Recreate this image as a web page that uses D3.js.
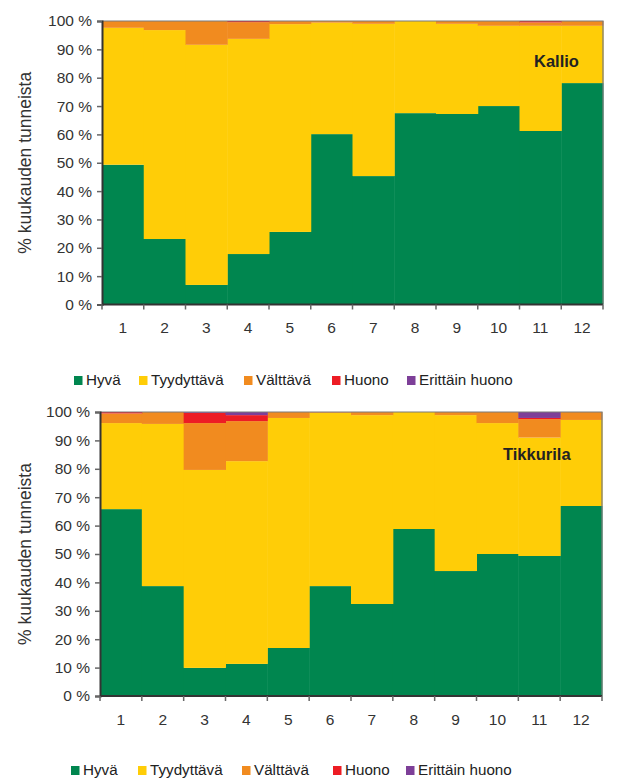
<!DOCTYPE html>
<html>
<head>
<meta charset="utf-8">
<script src="https://cdn.jsdelivr.net/npm/d3@7"></script>
<style>
  html, body { margin: 0; padding: 0; background: #fff; }
  svg { display: block; font-family: "Liberation Sans", Arial, sans-serif; }
</style>
</head>
<body>
<svg id="chart" width="618" height="779"></svg>
<script>
// Month numbers along the x axis
const months = ["1", "2", "3", "4", "5", "6", "7", "8", "9", "10", "11", "12"];
// Air quality classes, bottom to top of each stack
const classes = ["Hyvä", "Tyydyttävä", "Välttävä", "Huono", "Erittäin huono"];
const yTicks = [0, 10, 20, 30, 40, 50, 60, 70, 80, 90, 100];

// Kallio: share of hours per month (%)
const kallioHyva        = [49.3, 23.1, 6.9, 17.8, 25.6, 60.1, 45.3, 67.5, 67.2, 70.0, 61.2, 78.1];
const kallioTyydyttava  = [48.3, 73.7, 84.7, 75.9, 73.3, 39.3, 53.7, 32.5, 31.8, 28.3, 37.1, 20.2];
const kallioValttava    = [2.4, 3.2, 8.4, 5.9, 1.1, 0.6, 1.0, 0.0, 1.0, 1.7, 1.2, 1.7];
const kallioHuono       = [0, 0, 0, 0.4, 0, 0, 0, 0, 0, 0, 0.5, 0];
const kallioErittain    = [0, 0, 0, 0, 0, 0, 0, 0, 0, 0, 0, 0];

// Tikkurila: share of hours per month (%)
const tikkurilaHyva       = [65.8, 38.7, 9.9, 11.3, 16.9, 38.7, 32.4, 58.8, 44.0, 50.0, 49.3, 66.9];
const tikkurilaTyydyttava = [30.3, 57.1, 69.7, 71.4, 81.0, 61.0, 66.5, 41.2, 54.9, 46.1, 41.7, 30.3];
const tikkurilaValttava   = [3.4, 4.2, 16.5, 14.1, 2.1, 0.3, 1.1, 0.0, 1.1, 3.9, 6.5, 2.8];
const tikkurilaHuono      = [0.5, 0, 3.6, 2.1, 0, 0, 0, 0, 0, 0, 0.4, 0];
const tikkurilaErittain   = [0, 0, 0.3, 1.1, 0, 0, 0, 0, 0, 0, 2.1, 0];

const classColors = ["#00864F", "#FFCD07", "#F18B1F", "#ED1C24", "#7D3F98"];

const svg = d3.select("#chart");

function toRows(series) {
  return months.map((m, i) => {
    const row = { month: m };
    classes.forEach((c, k) => { row[c] = series[k][i]; });
    return row;
  });
}

function drawPanel(series, station, box) {
  const g = svg.append("g");
  const x = d3.scaleBand().domain(months).range([box.left, box.right]).padding(0);
  const y = d3.scaleLinear().domain([0, 100]).range([box.bottom, box.top]);
  const stack = d3.stack().keys(classes)(toRows(series));
  const color = d3.scaleOrdinal().domain(classes).range(classColors);

  // stacked bars, no gap between months
  g.selectAll("g.layer").data(stack).join("g")
    .attr("class", "layer")
    .attr("fill", d => color(d.key))
    .selectAll("rect").data(d => d).join("rect")
      .attr("x", d => x(d.data.month))
      .attr("width", x.bandwidth() + 0.5)
      .attr("y", d => y(d[1]))
      .attr("height", d => Math.max(0, y(d[0]) - y(d[1])));

  // plot area frame (top and right)
  g.append("path")
    .attr("d", `M${box.left},${box.top}H${box.right}V${box.bottom}`)
    .attr("fill", "none").attr("stroke", "#7a7a7a").attr("stroke-width", 1.2);

  // y axis
  const yAxis = d3.axisLeft(y).tickValues(yTicks).tickFormat(d => d + " %").tickSize(5).tickPadding(5);
  const ya = g.append("g").attr("transform", `translate(${box.left},0)`).call(yAxis);
  ya.select(".domain").attr("stroke", "#333").attr("stroke-width", 2);
  ya.selectAll(".tick line").attr("stroke", "#666").attr("stroke-width", 1.5);
  ya.selectAll(".tick text").attr("font-size", 15.5).attr("fill", "#333")
    .attr("font-family", "Liberation Sans, Arial, sans-serif");

  // x axis: ticks sit on the month boundaries, labels centred on the bars
  const xa = g.append("g").attr("transform", `translate(0,${box.bottom})`);
  xa.append("line").attr("x1", box.left).attr("x2", box.right)
    .attr("stroke", "#333").attr("stroke-width", 2);
  const bounds = months.map(m => x(m)).concat([box.right]);
  xa.selectAll("line.tk").data(bounds).join("line").attr("class", "tk")
    .attr("x1", d => d).attr("x2", d => d).attr("y1", 0).attr("y2", 5)
    .attr("stroke", "#666").attr("stroke-width", 1.5);
  xa.selectAll("text").data(months).join("text")
    .attr("x", d => x(d) + x.bandwidth() / 2)
    .attr("y", 28.5)
    .attr("text-anchor", "middle")
    .attr("font-size", 15.5).attr("fill", "#333")
    .text(d => d);

  // axis title
  g.append("text")
    .attr("transform", `translate(31,${(box.top + box.bottom) / 2}) rotate(-90)`)
    .attr("text-anchor", "middle")
    .attr("font-size", 17.5).attr("fill", "#333")
    .text("% kuukauden tunneista");

  // station name
  g.append("text")
    .attr("x", box.labelX).attr("y", box.labelY)
    .attr("font-size", 16.5).attr("font-weight", "bold").attr("fill", "#222")
    .text(station);

  // legend
  const lg = g.append("g");
  const items = lg.selectAll("g").data(classes).join("g")
    .attr("transform", (d, i) => `translate(${box.legendX[i]},${box.legendY})`);
  items.append("rect").attr("x", 0).attr("y", -9).attr("width", 8.5).attr("height", 9)
    .attr("fill", d => color(d));
  items.append("text").attr("x", 12).attr("y", 0)
    .attr("font-size", 15.2).attr("fill", "#222")
    .text(d => d);
}

drawPanel(
  [kallioHyva, kallioTyydyttava, kallioValttava, kallioHuono, kallioErittain],
  "Kallio",
  { left: 102, right: 603, top: 21, bottom: 304.5, labelX: 534, labelY: 67,
    legendX: [74, 139, 244, 332, 407], legendY: 385 }
);

drawPanel(
  [tikkurilaHyva, tikkurilaTyydyttava, tikkurilaValttava, tikkurilaHuono, tikkurilaErittain],
  "Tikkurila",
  { left: 100, right: 602, top: 412, bottom: 696, labelX: 503, labelY: 460,
    legendX: [71, 138, 242, 333, 406], legendY: 775 }
);
</script>
</body>
</html>
